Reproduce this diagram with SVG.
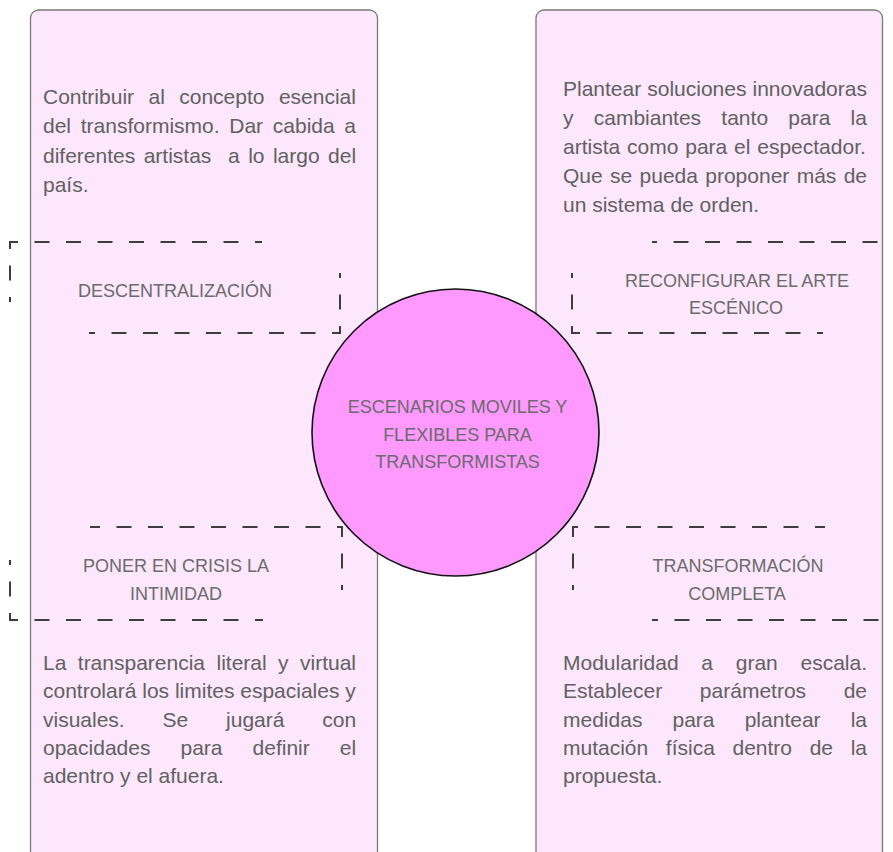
<svg xmlns="http://www.w3.org/2000/svg" width="893" height="852" viewBox="0 0 893 852">
<style>
.panel{fill:#fde7fd;stroke:#7a7a7a;stroke-width:1.3}
.dash{fill:none;stroke:#3d3d3d;stroke-width:2;stroke-dasharray:15 16.5;stroke-dashoffset:10}
.body{font-family:"Liberation Sans",Arial,sans-serif;font-size:21px;fill:#616161}
.lbl{font-family:"Liberation Sans",Arial,sans-serif;font-size:18px;fill:#6b6b6b;text-anchor:middle}
.hub{fill:#ff99ff;stroke:#111;stroke-width:1.6}
</style>
<rect width="893" height="852" fill="#ffffff"/>
<g id="panel-left">
<rect class="panel" x="30.5" y="10" width="347" height="900" rx="8"/>
<text class="body" x="43" y="103.5" word-spacing="8.6">Contribuir al concepto esencial</text>
<text class="body" x="43" y="133" word-spacing="3.85">del transformismo. Dar cabida a</text>
<text class="body" x="43" y="162.5" word-spacing="2.57" xml:space="preserve">diferentes artistas  a lo largo del</text>
<text class="body" x="43" y="192">país.</text>
<text class="body" x="43" y="670" word-spacing="5.6">La transparencia literal y virtual</text>
<text class="body" x="43" y="698.3" word-spacing="0">controlará los limites espaciales y</text>
<text class="body" x="43" y="726.6" word-spacing="32">visuales. Se jugará con</text>
<text class="body" x="43" y="754.9" word-spacing="24.2">opacidades para definir el</text>
<text class="body" x="43" y="783.2">adentro y el afuera.</text>
</g>
<g id="panel-right">
<rect class="panel" x="536" y="10" width="346.5" height="900" rx="8"/>
<text class="body" x="563" y="95.5" word-spacing="0.2">Plantear soluciones innovadoras</text>
<text class="body" x="563" y="124.7" word-spacing="14.4">y cambiantes tanto para la</text>
<text class="body" x="563" y="153.9" word-spacing="1">artista como para el espectador.</text>
<text class="body" x="563" y="183.1" word-spacing="1.5">Que se pueda proponer más de</text>
<text class="body" x="563" y="212.3">un sistema de orden.</text>
<text class="body" x="563" y="670" word-spacing="16.9">Modularidad a gran escala.</text>
<text class="body" x="563" y="698.3" word-spacing="31.8">Establecer parámetros de</text>
<text class="body" x="563" y="726.6" word-spacing="24.3">medidas para plantear la</text>
<text class="body" x="563" y="754.9" word-spacing="11.8">mutación física dentro de la</text>
<text class="body" x="563" y="783.2">propuesta.</text>
</g>
<g id="label-descentralizacion">
<path class="dash" d="M10,302 V242 H262"/>
<path class="dash" d="M340,273 V333 H89"/>
<text class="lbl" x="175" y="297">DESCENTRALIZACIÓN</text>
</g>
<g id="label-reconfigurar">
<path class="dash" d="M572,273 V333 H823"/>
<path class="dash" d="M902,302 V242 H652"/>
<text class="lbl" x="737" y="287">RECONFIGURAR EL ARTE</text>
<text class="lbl" x="736" y="314">ESCÉNICO</text>
</g>
<g id="label-poner-en-crisis">
<path class="dash" d="M10,560 V620 H263"/>
<path class="dash" d="M342,590 V527 H90"/>
<text class="lbl" x="176" y="572">PONER EN CRISIS LA</text>
<text class="lbl" x="176" y="600">INTIMIDAD</text>
</g>
<g id="label-transformacion">
<path class="dash" d="M573,590 V527 H825"/>
<path class="dash" d="M903,560 V620 H652"/>
<text class="lbl" x="738" y="572">TRANSFORMACIÓN</text>
<text class="lbl" x="737" y="600">COMPLETA</text>
</g>
<g id="hub">
<circle class="hub" cx="455.5" cy="432.5" r="143.5"/>
<text class="lbl" x="457.5" y="413">ESCENARIOS MOVILES Y</text>
<text class="lbl" x="457.5" y="440.5">FLEXIBLES PARA</text>
<text class="lbl" x="457.5" y="468">TRANSFORMISTAS</text>
</g>
<g id="connectors"></g>
</svg>
